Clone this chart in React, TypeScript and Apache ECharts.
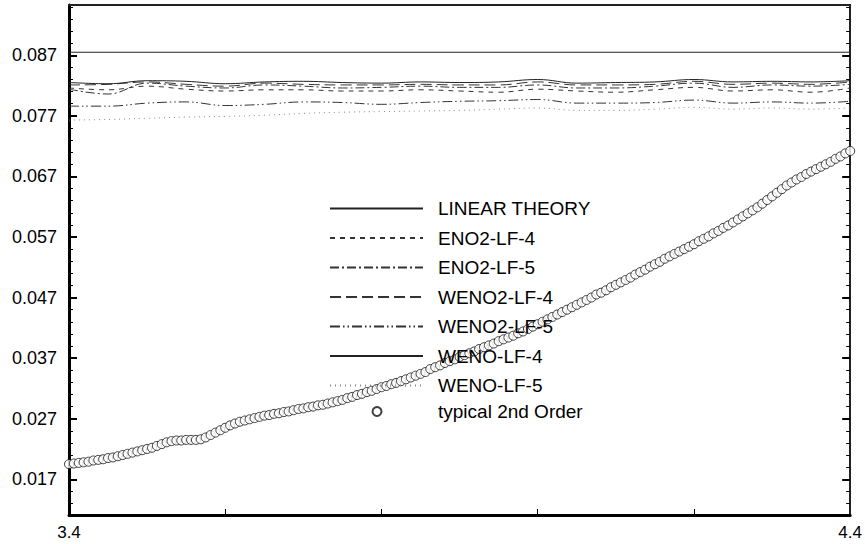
import React, { useEffect, useRef } from 'react';
import * as echarts from 'echarts';

const FONT = '"Liberation Sans", Arial, Helvetica, sans-serif';

const Y_MIN = 0.0111;
const Y_MAX = 0.0953;
const Y_MAJOR = [0.017, 0.027, 0.037, 0.047, 0.057, 0.067, 0.077, 0.087];
const Y_MINOR = [0.013, 0.015, 0.019, 0.021, 0.023, 0.025, 0.029, 0.031, 0.033, 0.035, 0.039, 0.041, 0.043, 0.045,
  0.049, 0.051, 0.053, 0.055, 0.059, 0.061, 0.063, 0.065, 0.069, 0.071, 0.073, 0.075, 0.079, 0.081, 0.083, 0.085,
  0.089, 0.091, 0.093, 0.095];
const X_LABELS = [3.4, 4.4];
const X_TICKS = [3.6, 3.8, 4.0, 4.2];

const LINE_X = [3.40, 3.45, 3.50, 3.55, 3.60, 3.65, 3.70, 3.75, 3.80, 3.85, 3.90, 3.95, 4.00, 4.05, 4.10, 4.15, 4.20, 4.25, 4.30, 4.35, 4.40];

const LINEAR_THEORY_X = [3.4, 4.4];
const LINEAR_THEORY = [0.0875, 0.0875];
const ENO2_LF_4 = [0.0816, 0.0813, 0.0819, 0.0814, 0.0811, 0.0813, 0.0813, 0.0811, 0.0811, 0.0813, 0.0811, 0.0809, 0.0814, 0.0811, 0.0809, 0.0813, 0.0817, 0.0811, 0.0813, 0.0809, 0.0816];
const ENO2_LF_5 = [0.0814, 0.0806, 0.0824, 0.0819, 0.0816, 0.0821, 0.0819, 0.0816, 0.0817, 0.0819, 0.0817, 0.0817, 0.0821, 0.0816, 0.0816, 0.0819, 0.0824, 0.0817, 0.0821, 0.0819, 0.0822];
const WENO2_LF_4 = [0.0821, 0.0822, 0.0826, 0.0822, 0.0819, 0.0824, 0.0822, 0.0821, 0.0821, 0.0822, 0.0821, 0.0821, 0.0826, 0.0821, 0.0821, 0.0822, 0.0827, 0.0822, 0.0824, 0.0822, 0.0826];
const WENO2_LF_5 = [0.0786, 0.0786, 0.0791, 0.0793, 0.0787, 0.0789, 0.0793, 0.0792, 0.0789, 0.0792, 0.0794, 0.0795, 0.0797, 0.0791, 0.0791, 0.0792, 0.0796, 0.0791, 0.0793, 0.0791, 0.0794];
const WENO_LF_4 = [0.0825, 0.0823, 0.0828, 0.0827, 0.0823, 0.0826, 0.0827, 0.0825, 0.0824, 0.0826, 0.0825, 0.0826, 0.0830, 0.0824, 0.0825, 0.0826, 0.0830, 0.0826, 0.0827, 0.0826, 0.0828];
const WENO_LF_5 = [0.0763, 0.0764, 0.0766, 0.0768, 0.0769, 0.0771, 0.0774, 0.0776, 0.0777, 0.0778, 0.0779, 0.0781, 0.0783, 0.0779, 0.0779, 0.0781, 0.0784, 0.0781, 0.0783, 0.0781, 0.0783];

// typical 2nd order: samples evenly spaced from 3.4 to 4.4
const SECOND_X_START = 3.4;
const SECOND_X_STEP = 0.00625;
const SECOND_ORDER = [
  0.0195, 0.0196, 0.0197, 0.0198, 0.0199, 0.0201, 0.0202, 0.0203, 0.0205, 0.0206,
  0.0208, 0.0210, 0.0212, 0.0214, 0.0216, 0.0218, 0.0220, 0.0222, 0.0225, 0.0228,
  0.0231, 0.0233, 0.0234, 0.0234, 0.0235, 0.0235, 0.0235, 0.0236, 0.0239, 0.0243,
  0.0247, 0.0251, 0.0255, 0.0259, 0.0262, 0.0265, 0.0267, 0.0269, 0.0271, 0.0273,
  0.0275, 0.0276, 0.0278, 0.0279, 0.0281, 0.0282, 0.0284, 0.0286, 0.0287, 0.0289,
  0.0290, 0.0292, 0.0293, 0.0295, 0.0297, 0.0299, 0.0301, 0.0304, 0.0306, 0.0309,
  0.0311, 0.0314, 0.0316, 0.0319, 0.0322, 0.0324, 0.0327, 0.0329, 0.0332, 0.0335,
  0.0338, 0.0341, 0.0344, 0.0347, 0.0352, 0.0355, 0.0358, 0.0362, 0.0365, 0.0368,
  0.0372, 0.0375, 0.0378, 0.0381, 0.0385, 0.0388, 0.0391, 0.0394, 0.0398, 0.0401,
  0.0404, 0.0407, 0.0411, 0.0414, 0.0418, 0.0422, 0.0426, 0.0430, 0.0434, 0.0438,
  0.0442, 0.0446, 0.0450, 0.0454, 0.0458, 0.0462, 0.0466, 0.0470, 0.0475, 0.0478,
  0.0482, 0.0487, 0.0491, 0.0495, 0.0499, 0.0503, 0.0508, 0.0512, 0.0516, 0.0521,
  0.0525, 0.0529, 0.0534, 0.0538, 0.0542, 0.0546, 0.0550, 0.0554, 0.0558, 0.0563,
  0.0567, 0.0571, 0.0576, 0.0580, 0.0585, 0.0589, 0.0594, 0.0599, 0.0604, 0.0609,
  0.0614, 0.0619, 0.0625, 0.0631, 0.0637, 0.0643, 0.0649, 0.0655, 0.0660, 0.0665,
  0.0669, 0.0674, 0.0678, 0.0682, 0.0686, 0.0690, 0.0694, 0.0699, 0.0703, 0.0708,
  0.0712,
];

const LINE_NAMES = ['LINEAR THEORY', 'ENO2-LF-4', 'ENO2-LF-5', 'WENO2-LF-4', 'WENO2-LF-5', 'WENO-LF-4', 'WENO-LF-5'];
const SCATTER_NAME = 'typical 2nd Order';

function pairs(xs: number[], ys: number[]) {
  return ys.map((y, i) => [xs[i], y]);
}

export default function App() {
  const ref = useRef<HTMLDivElement>(null);
  useEffect(() => {
    const chart = echarts.init(ref.current!, null, { renderer: 'svg' });

    const lineSeries = (name: string, data: number[][], type: any, color: string, smooth = 0.4) => ({
      name,
      type: 'line',
      data,
      xAxisIndex: 0,
      yAxisIndex: 0,
      symbol: 'none',
      showSymbol: false,
      smooth,
      lineStyle: { color, width: 1, type },
      itemStyle: { color },
      z: 2,
    });

    const yBase = {
      type: 'value',
      min: Y_MIN,
      max: Y_MAX,
      splitLine: { show: false },
    };

    const legendText = { fontSize: 19, color: '#000', fontFamily: FONT };

    const option: any = {
      animation: false,
      backgroundColor: '#fff',
      grid: { left: 69, right: 14, top: 5, bottom: 29 },
      xAxis: [
        {
          type: 'value',
          position: 'bottom',
          min: 3.4,
          max: 4.4,
          splitLine: { show: false },
          axisLine: { show: true, onZero: false, lineStyle: { color: '#000', width: 3 } },
          axisTick: { show: true, inside: true, length: 6, customValues: X_TICKS, lineStyle: { color: '#000', width: 1 } },
          axisLabel: {
            customValues: X_LABELS,
            formatter: (v: number) => v.toFixed(1),
            margin: 9,
            fontSize: 17,
            color: '#000',
            fontFamily: FONT,
          },
        },
        {
          type: 'value',
          position: 'top',
          min: 3.4,
          max: 4.4,
          splitLine: { show: false },
          axisLine: { show: true, onZero: false, lineStyle: { color: '#222', width: 2 } },
          axisTick: { show: false },
          axisLabel: { show: false },
        },
      ],
      yAxis: [
        {
          ...yBase,
          position: 'left',
          axisLine: { show: true, onZero: false, lineStyle: { color: '#000', width: 3 } },
          axisTick: { show: true, inside: true, length: 8, customValues: Y_MAJOR, lineStyle: { color: '#000', width: 2 } },
          axisLabel: {
            customValues: Y_MAJOR,
            formatter: (v: number) => v.toFixed(3),
            margin: 12,
            fontSize: 18,
            color: '#000',
            fontFamily: FONT,
          },
        },
        {
          ...yBase,
          position: 'left',
          axisLine: { show: false },
          axisTick: { show: true, inside: true, length: 4, customValues: Y_MINOR, lineStyle: { color: '#000', width: 1 } },
          axisLabel: { show: false },
        },
        {
          ...yBase,
          position: 'right',
          axisLine: { show: true, onZero: false, lineStyle: { color: '#222', width: 2 } },
          axisTick: { show: true, inside: true, length: 8, customValues: Y_MAJOR, lineStyle: { color: '#000', width: 2 } },
          axisLabel: { show: false },
        },
        {
          ...yBase,
          position: 'right',
          axisLine: { show: false },
          axisTick: { show: true, inside: true, length: 4, customValues: Y_MINOR, lineStyle: { color: '#000', width: 1 } },
          axisLabel: { show: false },
        },
      ],
      legend: [
        {
          data: LINE_NAMES,
          orient: 'vertical',
          left: 329,
          top: 199,
          padding: 0,
          itemWidth: 93,
          itemHeight: 14,
          itemGap: 10.5,
          selectedMode: false,
          itemStyle: { color: 'rgba(0,0,0,0)', borderColor: 'rgba(0,0,0,0)', borderWidth: 0, opacity: 0 },
          textStyle: { ...legendText, padding: [0, 0, 0, 10] },
        },
        {
          data: [SCATTER_NAME],
          orient: 'vertical',
          left: 371.5,
          top: 402,
          padding: 0,
          itemWidth: 9,
          itemHeight: 9,
          selectedMode: false,
          textStyle: { ...legendText, padding: [0, 0, 0, 51.5] },
        },
      ],
      series: [
        lineSeries(LINE_NAMES[0], pairs(LINEAR_THEORY_X, LINEAR_THEORY), 'solid', '#222', 0),
        lineSeries(LINE_NAMES[1], pairs(LINE_X, ENO2_LF_4), [5, 5], '#333'),
        lineSeries(LINE_NAMES[2], pairs(LINE_X, ENO2_LF_5), [9, 3, 2, 3], '#333'),
        lineSeries(LINE_NAMES[3], pairs(LINE_X, WENO2_LF_4), [11, 5], '#333'),
        lineSeries(LINE_NAMES[4], pairs(LINE_X, WENO2_LF_5), [10, 3, 1.5, 3, 1.5, 3], '#333'),
        lineSeries(LINE_NAMES[5], pairs(LINE_X, WENO_LF_4), 'solid', '#222'),
        lineSeries(LINE_NAMES[6], pairs(LINE_X, WENO_LF_5), [1, 4], '#888'),
        {
          name: SCATTER_NAME,
          type: 'scatter',
          xAxisIndex: 0,
          yAxisIndex: 0,
          data: SECOND_ORDER.map((v, i) => [SECOND_X_START + i * SECOND_X_STEP, v]),
          symbol: 'circle',
          symbolSize: 9,
          itemStyle: { color: '#fff', borderColor: '#111', borderWidth: 1 },
          z: 3,
        },
      ],
    };

    chart.setOption(option);
    return () => chart.dispose();
  }, []);

  return (
    <div
      ref={ref}
      style={{ position: 'fixed', left: 0, top: 0, width: 865, height: 544, background: '#fff' }}
    />
  );
}
